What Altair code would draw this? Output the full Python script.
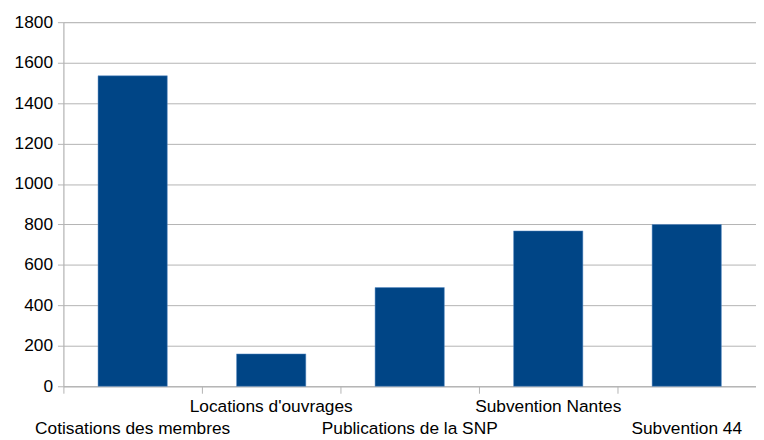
import altair as alt
import pandas as pd

categories = ["Cotisations des membres", "Locations d'ouvrages", "Publications de la SNP",
              "Subvention Nantes", "Subvention 44"]
values = [1535, 160, 488, 768, 800]
label_row = [1, 0, 1, 0, 1]
y_ticks = [0, 200, 400, 600, 800, 1000, 1200, 1400, 1600, 1800]

df = pd.DataFrame({"cat": categories, "val": values, "row": label_row})

FONT = "Liberation Sans"
GRID = "#b3b3b3"

xscale = alt.Scale(domain=categories, paddingInner=0, paddingOuter=0)

base = alt.Chart(df)

bars = base.mark_bar(color="#004586", stroke="#5b8fc7", strokeWidth=0.5,
                     width=alt.RelativeBandSize(0.5)).encode(
    x=alt.X("cat:N", sort=categories, scale=xscale,
            axis=alt.Axis(title=None, labels=False, ticks=True, tickSize=7,
                          bandPosition=0, tickColor=GRID, domainColor=GRID, grid=False)),
    y=alt.Y("val:Q", scale=alt.Scale(domain=[0, 1800], nice=False),
            axis=alt.Axis(title=None, values=y_ticks, format="d", grid=True, gridColor=GRID,
                          tickColor=GRID, domainColor=GRID, tickSize=6,
                          labelFont=FONT, labelFontSize=17.5, labelColor="#000000",
                          labelPadding=5)),
)

top_labels = base.transform_filter("datum.row == 0").mark_text(
    font=FONT, fontSize=17.5, color="#000000", baseline="middle", align="center"
).encode(
    x=alt.X("cat:N", sort=categories, scale=xscale),
    y=alt.value(389),
    text="cat:N",
)

bottom_labels = base.transform_filter("datum.row == 1").mark_text(
    font=FONT, fontSize=17.5, color="#000000", baseline="middle", align="center"
).encode(
    x=alt.X("cat:N", sort=categories, scale=xscale),
    y=alt.value(411),
    text="cat:N",
)

chart = alt.layer(bars, top_labels, bottom_labels).properties(
    width=700, height=368,
    autosize=alt.AutoSizeParams(type="none"),
    padding={"left": 56, "top": 12, "right": 0, "bottom": 56},
).configure_view(stroke=None).configure(background="white")

chart.save("out.html", embed_options={"renderer": "svg", "actions": False})
